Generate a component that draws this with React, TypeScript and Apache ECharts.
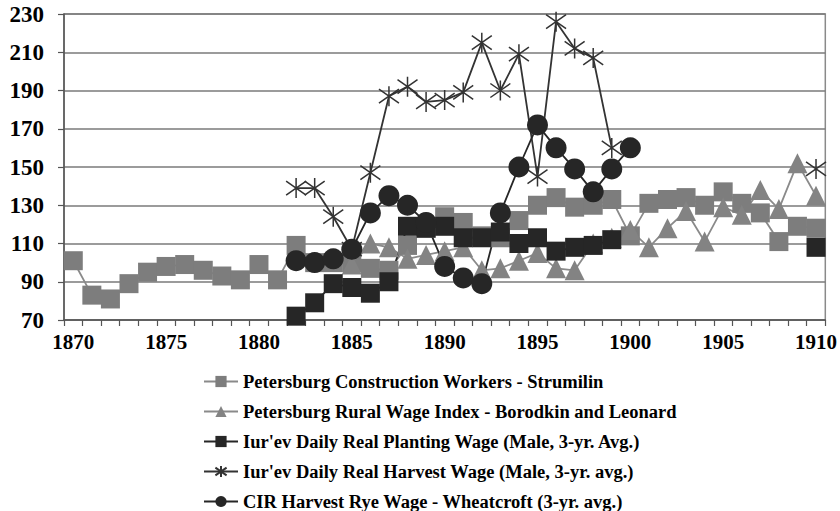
import React, { useEffect, useRef } from "react";
import * as echarts from "echarts";

const years = [
  "1870","1871","1872","1873","1874","1875","1876","1877","1878","1879",
  "1880","1881","1882","1883","1884","1885","1886","1887","1888","1889",
  "1890","1891","1892","1893","1894","1895","1896","1897","1898","1899",
  "1900","1901","1902","1903","1904","1905","1906","1907","1908","1909","1910",
];

const strumilin = [
  101, 83, 81, 89, 95, 98, 99, 96, 93, 91,
  99, 91, 109, 100, 100, 100, 97, 96, 109, 118,
  124, 121, 114, 113, 122, 130, 134, 129, 130, 133,
  114, 131, 133, 134, 130, 137, 131, 126, 111, 119, 118,
];

const borodkin = [
  null, null, null, null, null, null, null, null, null, null,
  null, null, null, null, null, 99, 110, 108, 102, 104,
  106, 108, 96, 97, 101, 105, 97, 96, 110, 113,
  117, 108, 118, 127, 111, 129, 125, 138, 128, 152, 135,
];

const planting = [
  null, null, null, null, null, null, null, null, null, null,
  null, null, 72, 79, 89, 87, 84, 90, 119, 118,
  119, 113, 113, 116, 110, 113, 106, 108, 109, 112,
  null, null, null, null, null, null, null, null, null, null, 108,
];

const harvest = [
  null, null, null, null, null, null, null, null, null, null,
  null, null, 139, 139, 124, 107, 147, 187, 192, 184,
  185, 189, 215, 190, 209, 145, 226, 212, 207, 160,
  null, null, null, null, null, null, null, null, null, null, 149,
];

const cir = [
  null, null, null, null, null, null, null, null, null, null,
  null, null, 101, 100, 102, 107, 126, 135, 130, 121,
  98, 92, 89, 126, 150, 172, 160, 149, 137, 149,
  160, null, null, null, null, null, null, null, null, null, null,
];

const seriesNames = [
  "Petersburg Construction Workers - Strumilin",
  "Petersburg Rural Wage Index - Borodkin and Leonard",
  "Iur'ev Daily Real Planting Wage (Male, 3-yr. Avg.)",
  "Iur'ev Daily Real Harvest Wage (Male, 3-yr. avg.)",
  "CIR Harvest Rye Wage - Wheatcroft (3-yr. avg.)",
];

const FONT = "'Liberation Serif', 'Times New Roman', serif";
const STAR = "path://M0,3L20,17M0,17L20,3M10,0L10,20";

export default function App() {
  const ref = useRef<HTMLDivElement>(null);

  useEffect(() => {
    if (!ref.current) return;
    const chart = echarts.init(ref.current, null, { renderer: "svg" });
    const common = { type: "line", showAllSymbol: true, connectNulls: false };
    chart.setOption({
      animation: false,
      backgroundColor: "#ffffff",
      grid: {
        left: 64,
        right: 13,
        top: 14,
        bottom: 191,
        show: true,
        borderColor: "#8a8a8a",
        borderWidth: 1.5,
        backgroundColor: "transparent",
      },
      legend: {
        orient: "vertical",
        left: 198,
        top: 367,
        height: 200,
        itemGap: 11,
        itemWidth: 34,
        itemHeight: 14,
        textStyle: {
          fontFamily: FONT,
          fontWeight: "bold",
          fontSize: 18.5,
          lineHeight: 18,
          color: "#000",
        },
        data: seriesNames,
      },
      xAxis: {
        type: "category",
        data: years,
        boundaryGap: true,
        axisLine: { lineStyle: { color: "#555", width: 1.5 } },
        axisTick: { show: true, interval: 0, length: 6, lineStyle: { color: "#555", width: 1.2 } },
        axisLabel: {
          interval: 4,
          margin: 11,
          fontFamily: FONT,
          fontWeight: "bold",
          fontSize: 21,
          color: "#000",
        },
        splitLine: { show: false },
      },
      yAxis: {
        type: "value",
        min: 70,
        max: 230,
        interval: 20,
        axisLine: { show: true, lineStyle: { color: "#555", width: 1.5 } },
        axisTick: { show: true, length: 6, lineStyle: { color: "#555", width: 1.2 } },
        axisLabel: {
          margin: 20,
          fontFamily: FONT,
          fontWeight: "bold",
          fontSize: 23,
          color: "#000",
        },
        splitLine: { show: true, lineStyle: { color: "#7a7a7a", width: 1.5 } },
      },
      series: [
        {
          ...common,
          name: seriesNames[0],
          data: strumilin,
          symbol: "rect",
          symbolSize: 19,
          itemStyle: { color: "#7d7d7d" },
          lineStyle: { color: "#8a8a8a", width: 1.8 },
        },
        {
          ...common,
          name: seriesNames[1],
          data: borodkin,
          symbol: "triangle",
          symbolSize: 20,
          itemStyle: { color: "#838383" },
          lineStyle: { color: "#8a8a8a", width: 1.8 },
        },
        {
          ...common,
          name: seriesNames[2],
          data: planting,
          symbol: "rect",
          symbolSize: 19,
          itemStyle: { color: "#262626" },
          lineStyle: { color: "#262626", width: 1.8 },
        },
        {
          ...common,
          name: seriesNames[3],
          data: harvest,
          symbol: STAR,
          symbolSize: 20,
          itemStyle: { color: "transparent", borderColor: "#333", borderWidth: 1.5 },
          lineStyle: { color: "#333", width: 1.8 },
        },
        {
          ...common,
          name: seriesNames[4],
          data: cir,
          symbol: "circle",
          symbolSize: 21,
          itemStyle: { color: "#262626" },
          lineStyle: { color: "#262626", width: 1.8 },
        },
      ],
    });
    return () => chart.dispose();
  }, []);

  return (
    <div
      ref={ref}
      style={{ position: "fixed", left: 0, top: 0, width: 840, height: 511, background: "#fff" }}
    />
  );
}
